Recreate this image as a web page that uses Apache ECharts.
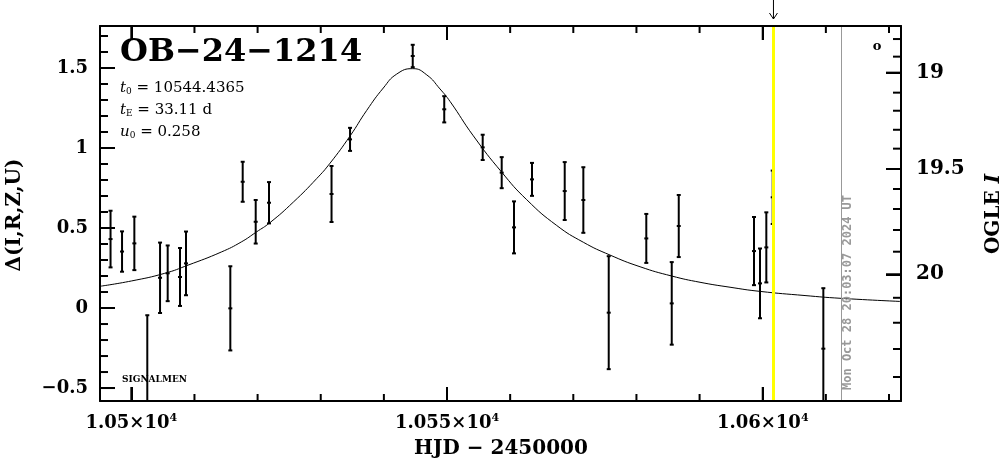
<!DOCTYPE html>
<html>
<head>
<meta charset="utf-8">
<script src="https://cdn.jsdelivr.net/npm/echarts@6/dist/echarts.min.js"></script>
<style>
html,body{margin:0;padding:0;background:#fff;}
#chart{width:1004px;height:459px;}
</style>
</head>
<body>
<div id="chart"></div>
<script>
// ---- data ----
var obsDays = [10496.71, 10498.53, 10500.48, 10502.53, 10504.55, 10505.76, 10507.71, 10508.66, 10515.68, 10517.64, 10519.70, 10521.81, 10531.71, 10534.64, 10544.57, 10549.56, 10555.65, 10558.66, 10560.61, 10563.46, 10568.64, 10571.59, 10575.61, 10581.56, 10585.59, 10586.70, 10598.62, 10599.57, 10600.57, 10601.58, 10609.60];
var obsDelta = [0.431, 0.353, 0.404, -0.62, 0.189, 0.217, 0.194, 0.279, -0.002, 0.789, 0.539, 0.658, 0.7125, 1.054, 1.575, 1.242, 1.004, 0.846, 0.504, 0.804, 0.731, 0.675, -0.029, 0.435, 0.029, 0.5125, 0.356, 0.154, 0.379, 0.692, -0.254];
var obsErr = [0.177, 0.126, 0.167, 0.575, 0.22, 0.174, 0.181, 0.199, 0.263, 0.125, 0.136, 0.129, 0.175, 0.072, 0.07, 0.082, 0.079, 0.097, 0.1625, 0.103, 0.181, 0.205, 0.353, 0.153, 0.258, 0.194, 0.213, 0.218, 0.219, 0.167, 0.378];

var modelDays = [10495.04, 10500.00, 10505.29, 10508.98, 10514.25, 10517.42, 10519.80, 10521.97, 10525.66, 10529.36, 10531.47, 10534.64, 10537.28, 10539.91, 10542.03, 10544.57, 10546.79, 10548.89, 10550.48, 10554.17, 10558.66, 10562.62, 10567.37, 10571.59, 10575.82, 10580.57, 10585.59, 10590.07, 10594.82, 10599.57, 10606.70, 10612.24, 10621.90];
var modelDelta = [0.136, 0.169, 0.217, 0.268, 0.35, 0.413, 0.475, 0.534, 0.662, 0.809, 0.905, 1.075, 1.235, 1.375, 1.462, 1.496, 1.457, 1.369, 1.291, 1.076, 0.849, 0.677, 0.516, 0.411, 0.331, 0.258, 0.2, 0.161, 0.13, 0.104, 0.078, 0.061, 0.041];

var xMajorTicks = [10500, 10550, 10600];
var xMinorTicks = [10510, 10520, 10530, 10540, 10560, 10570, 10580, 10590, 10610, 10620];
var yMajorTicks = [-0.5, 0, 0.5, 1, 1.5];
var yMinorTicks = [-0.4, -0.3, -0.2, -0.1, 0.1, 0.2, 0.3, 0.4, 0.6, 0.7, 0.8, 0.9, 1.1, 1.2, 1.3, 1.4, 1.6, 1.7];

// OGLE I magnitude ticks on the right axis: labels and their positions in delta units
var magMajorLabels = ['19', '19.5', '20'];
var magMajorPos = [1.471, 0.869, 0.211];
var magMinorPos = [1.681, 1.571, 1.346, 1.233, 1.114, 0.996, 0.744, 0.619, 0.4875, 0.352, 0.064, -0.092, -0.256, -0.431];

var yellowDay = 10601.7;
var grayDay = 10612.5;

var xMin = 10495.04, xMax = 10621.9, yMin = -0.581, yMax = 1.7625;

var title = 'OB\u221224\u22121214';
var dateText = 'Mon Oct 28 20:03:07 2024 UT';

// ---- chart ----
var chart = echarts.init(document.getElementById('chart'), null, {renderer: 'canvas'});
var serif = 'DejaVu Serif';
var MAJ = 14, MIN = 7;

var errData = obsDays.map(function (d, i) { return [d, obsDelta[i], obsErr[i]]; });
var modelData = modelDays.map(function (d, i) { return [d, modelDelta[i]]; });

var option = {
  animation: false,
  grid: {left: 100, right: 103, top: 26, bottom: 58},
  xAxis: [
    {type: 'value', position: 'bottom', min: xMin, max: xMax, splitLine: {show: false}, zlevel: 1,
      axisLine: {show: true, onZero: false, lineStyle: {color: '#000', width: 2}},
      axisTick: {show: true, inside: true, length: MAJ, customValues: xMajorTicks, lineStyle: {color: '#000', width: 2}},
      axisLabel: {show: true, customValues: xMajorTicks, margin: 12,
        formatter: function (v) { return '{a|' + (v / 10000) + '\u00d710}{s|4}'; },
        rich: {a: {fontFamily: serif, fontWeight: 'bold', fontSize: 18, color: '#000'},
               s: {fontFamily: serif, fontWeight: 'bold', fontSize: 11, color: '#000', verticalAlign: 'top', padding: [0, 0, 10, 0]}}}},
    {type: 'value', position: 'top', min: xMin, max: xMax, splitLine: {show: false}, zlevel: 1,
      axisLine: {show: true, onZero: false, lineStyle: {color: '#000', width: 2}},
      axisTick: {show: true, inside: true, length: MAJ, customValues: xMajorTicks, lineStyle: {color: '#000', width: 2}},
      axisLabel: {show: false}}
  ],
  yAxis: [
    {type: 'value', position: 'left', min: yMin, max: yMax, splitLine: {show: false}, zlevel: 1,
      axisLine: {show: true, onZero: false, lineStyle: {color: '#000', width: 2}},
      axisTick: {show: true, inside: true, length: MAJ + 1, customValues: yMajorTicks, lineStyle: {color: '#000', width: 2}},
      axisLabel: {show: true, customValues: yMajorTicks, margin: 12, fontFamily: serif, fontWeight: 'bold', fontSize: 18, color: '#000',
        formatter: function (v) { return (v < 0 ? '\u2212' : '') + Math.abs(v); }}},
    {type: 'value', position: 'right', min: yMin, max: yMax, splitLine: {show: false}, zlevel: 1,
      axisLine: {show: true, onZero: false, lineStyle: {color: '#000', width: 2}},
      axisTick: {show: true, inside: true, length: MAJ + 1, customValues: magMajorPos, lineStyle: {color: '#000', width: 2}},
      axisLabel: {show: true, customValues: magMajorPos, margin: 15, fontFamily: serif, fontWeight: 'bold', fontSize: 20, color: '#000',
        formatter: function (v) {
          var best = 0;
          for (var i = 1; i < magMajorPos.length; i++) { if (Math.abs(magMajorPos[i] - v) < Math.abs(magMajorPos[best] - v)) best = i; }
          return magMajorLabels[best];
        }}}
  ],
  series: [
    {name: 'model', type: 'line', data: modelData, z: 2, showSymbol: false, smooth: 0.5,
      lineStyle: {color: '#000', width: 1}, clip: true, silent: true,
      markLine: {silent: true, symbol: ['none', 'none'], label: {show: false}, animation: false,
        data: [
          {xAxis: yellowDay, lineStyle: {color: '#ffff00', width: 3, type: 'solid'}},
          {xAxis: grayDay, lineStyle: {color: '#999999', width: 1, type: 'solid'}}
        ]}},
    {name: 'obs', type: 'custom', data: errData, z: 3, clip: true, silent: true, encode: {x: 0, y: 1},
      renderItem: function (params, api) {
        var x = api.value(0), y = api.value(1), e = api.value(2);
        var t = api.coord([x, y + e]), b = api.coord([x, y - e]), c = api.coord([x, y]);
        var st = {stroke: '#000', lineWidth: 2};
        return {type: 'group', children: [
          {type: 'line', shape: {x1: t[0], y1: t[1], x2: b[0], y2: b[1]}, style: st},
          {type: 'line', shape: {x1: t[0] - 2, y1: t[1], x2: t[0] + 2, y2: t[1]}, style: st},
          {type: 'line', shape: {x1: b[0] - 2, y1: b[1], x2: b[0] + 2, y2: b[1]}, style: st},
          {type: 'line', shape: {x1: c[0] - 2, y1: c[1], x2: c[0] + 2, y2: c[1]}, style: st}
        ]};
      }}
  ]
};
chart.setOption(option);

function px(v) { return chart.convertToPixel({xAxisIndex: 0}, v); }
function py(v) { return chart.convertToPixel({yAxisIndex: 0}, v); }
var yx = px(yellowDay), gx = px(grayDay);
var gLeft = px(xMin), gRight = px(xMax), gBottom = py(yMin), gTop = py(yMax);

var graphics = [];
function tickRect(x, y, w, h) {
  graphics.push({type: 'rect', zlevel: 2, z: 30, shape: {x: x, y: y, width: w, height: h}, style: {fill: '#000'}});
}
xMajorTicks.forEach(function (v) { var x = px(v); tickRect(x - 1, gBottom - MAJ, 2, MAJ); tickRect(x - 1, gTop, 2, MAJ); });
xMinorTicks.forEach(function (v) { var x = px(v); tickRect(x - 1, gBottom - MIN, 2, MIN); tickRect(x - 1, gTop, 2, MIN); });
yMajorTicks.forEach(function (v) { var y = py(v); tickRect(gLeft, y - 1, MAJ + 1, 2); });
yMinorTicks.forEach(function (v) { var y = py(v); tickRect(gLeft, y - 1, MIN + 1, 2); });
magMajorPos.forEach(function (v) { var y = py(v); tickRect(gRight - MAJ - 1, y - 1, MAJ + 1, 2); });
magMinorPos.forEach(function (v) { var y = py(v); tickRect(gRight - MIN - 1, y - 1, MIN + 1, 2); });

var paramRich = {
  i: {fontFamily: serif, fontStyle: 'italic', fontSize: 15, fill: '#000'},
  s: {fontFamily: serif, fontSize: 9, fill: '#000', padding: [8, 0, 0, 0]},
  n: {fontFamily: serif, fontSize: 15, fill: '#000'}
};
graphics = graphics.concat([
  {type: 'text', x: 120, y: 37, z: 10, style: {text: title, fontFamily: serif, fontWeight: 'bold', fontSize: 32, fill: '#000'}},
  {type: 'text', x: 120, y: 88, z: 10, style: {text: '{i|t}{s|0}{n| = 10544.4365}', textVerticalAlign: 'middle', rich: paramRich}},
  {type: 'text', x: 120, y: 110, z: 10, style: {text: '{i|t}{s|E}{n| = 33.11 d}', textVerticalAlign: 'middle', rich: paramRich}},
  {type: 'text', x: 120, y: 132, z: 10, style: {text: '{i|u}{s|0}{n| = 0.258}', textVerticalAlign: 'middle', rich: paramRich}},
  {type: 'text', x: 122, y: 380, z: 10, style: {text: 'SIGNALMEN', fontFamily: serif, fontWeight: 'bold', fontSize: 9, fill: '#000', textVerticalAlign: 'middle'}},
  {type: 'text', x: 877, y: 47, z: 10, style: {text: 'o', fontFamily: serif, fontWeight: 'bold', fontSize: 13, fill: '#000', textAlign: 'center', textVerticalAlign: 'middle'}},
  {type: 'text', x: gx + 6.5, y: 390, rotation: Math.PI / 2, z: 10, style: {text: dateText, fontFamily: 'DejaVu Sans Mono', fontWeight: 'bold', fontSize: 12, fill: '#999999', textAlign: 'left', textVerticalAlign: 'middle'}},
  {type: 'line', z: 10, shape: {x1: yx, y1: 0, x2: yx, y2: 19}, style: {stroke: '#000', lineWidth: 1}},
  {type: 'polyline', z: 10, shape: {points: [[yx - 4, 13], [yx, 19], [yx + 4, 13]]}, style: {stroke: '#000', lineWidth: 1, fill: null}},
  {type: 'text', x: 15, y: 215, rotation: Math.PI / 2, z: 10, style: {text: '\u0394(I,R,Z,U)', fontFamily: serif, fontWeight: 'bold', fontSize: 20, fill: '#000', textAlign: 'center', textVerticalAlign: 'middle'}},
  {type: 'text', x: 994, y: 214, rotation: Math.PI / 2, z: 10, style: {text: '{a|OGLE }{b|I}', textAlign: 'center', textVerticalAlign: 'middle',
    rich: {a: {fontFamily: serif, fontWeight: 'bold', fontSize: 20, fill: '#000'}, b: {fontFamily: serif, fontWeight: 'bold', fontStyle: 'italic', fontSize: 20, fill: '#000'}}}},
  {type: 'text', x: 501, y: 449, z: 10, style: {text: 'HJD \u2212 2450000', fontFamily: serif, fontWeight: 'bold', fontSize: 20, fill: '#000', textAlign: 'center', textVerticalAlign: 'middle'}}
]);
chart.setOption({graphic: graphics});
</script>
</body>
</html>
